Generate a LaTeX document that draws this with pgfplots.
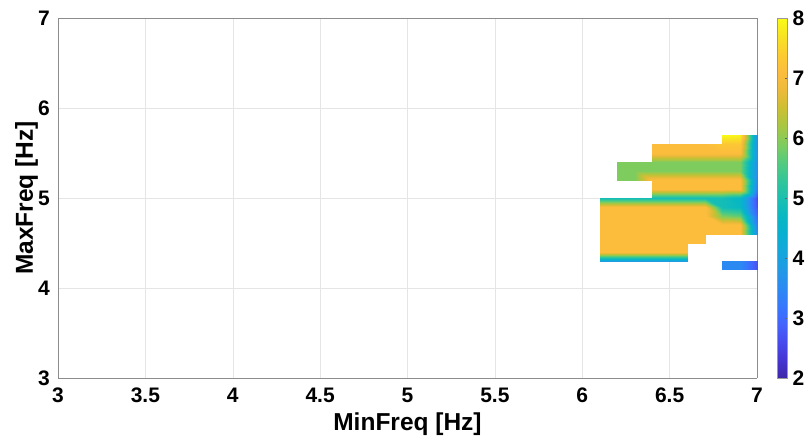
\documentclass[border=0pt]{standalone}
\usepackage{pgfplots}
\pgfplotsset{compat=1.18}
\usepackage{fontspec}
\setmainfont{Liberation Sans}
\begin{document}
\begin{tikzpicture}
\begin{axis}[
  set layers=standard,
  scale only axis, width=699pt, height=360pt,
  view={0}{90},
  xmin=3, xmax=7, ymin=3, ymax=7,
  xtick={3,3.5,...,7}, ytick={3,...,7}, ztick=\empty,
  grid=major, major grid style={color=black!10, line width=0.5pt},
  axis line style={color=black!45, line width=0.7pt},
  major tick length=0pt,
  /pgf/number format/assume math mode=true,
  tick label style={font=\fontsize{21}{21}\selectfont\bfseries},
  xticklabel style={anchor=base, yshift=-25pt, inner sep=0pt},
  yticklabel style={anchor=east, xshift=-8pt, inner sep=0pt},
  xlabel={MinFreq [Hz]}, ylabel={MaxFreq [Hz]},
  every axis x label/.style={at={(axis description cs:0.5,-0.1472)}, anchor=base, inner sep=0pt, font=\fontsize{24.5}{24.5}\selectfont\bfseries},
  every axis y label/.style={at={(axis description cs:-0.0358,0.5)}, rotate=90, anchor=base, inner sep=0pt, font=\fontsize{24.5}{24.5}\selectfont\bfseries},
  colormap={parula}{
    rgb=(0.2422,0.1504,0.6603) rgb=(0.2700,0.2100,0.8200) rgb=(0.2800,0.2900,0.9300)
    rgb=(0.2650,0.3900,0.9900) rgb=(0.2100,0.4700,0.9900) rgb=(0.1700,0.5400,0.9500)
    rgb=(0.1300,0.6000,0.9000) rgb=(0.0800,0.6500,0.8600) rgb=(0.0300,0.6900,0.8200)
    rgb=(0.0300,0.7200,0.7600) rgb=(0.1000,0.7500,0.6900) rgb=(0.2000,0.7750,0.6000)
    rgb=(0.3300,0.7950,0.4900) rgb=(0.5000,0.8000,0.3700) rgb=(0.6600,0.7800,0.2600)
    rgb=(0.8000,0.7500,0.2000) rgb=(0.9300,0.7300,0.2300) rgb=(0.9900,0.7400,0.2400)
    rgb=(0.9900,0.8000,0.1900) rgb=(0.9700,0.8900,0.1400) rgb=(0.9769,0.9839,0.0805)
  },
  point meta min=2, point meta max=8,
  unbounded coords=jump,
  colorbar,
  colorbar style={
    at={(parent axis.north east)}, anchor=north west, xshift=12pt,
    scale only axis, width=10pt, height=360pt,
    ytick={2,...,8},
    ytick pos=right,
    /pgf/number format/assume math mode=true,
    yticklabel style={font=\fontsize{21}{21}\selectfont\bfseries, anchor=west, xshift=5pt, inner sep=0pt},
    axis line style={color=black!40, line width=0.6pt},
    major tick length=3pt, tick style={color=black!60, line width=0.6pt},
    tick align=inside,
  },
]
\addplot3[surf, shader=interp, mesh/cols=10] table {
x y z
6.1 4.2 nan
6.2 4.2 nan
6.3 4.2 nan
6.4 4.2 nan
6.5 4.2 nan
6.6 4.2 nan
6.7 4.2 nan
6.8 4.2 3.5
6.9 4.2 3.5
7.0 4.2 2.7

6.1 4.3 3.9
6.2 4.3 3.9
6.3 4.3 3.9
6.4 4.3 3.9
6.5 4.3 3.9
6.6 4.3 3.9
6.7 4.3 nan
6.8 4.3 3.5
6.9 4.3 3.5
7.0 4.3 2.7

6.1 4.4 7.1
6.2 4.4 7.1
6.3 4.4 7.1
6.4 4.4 7.1
6.5 4.4 7.1
6.6 4.4 7.1
6.7 4.4 nan
6.8 4.4 nan
6.9 4.4 nan
7.0 4.4 nan

6.1 4.5 7.1
6.2 4.5 7.1
6.3 4.5 7.1
6.4 4.5 7.1
6.5 4.5 7.1
6.6 4.5 7.1
6.7 4.5 7.1
6.8 4.5 nan
6.9 4.5 nan
7.0 4.5 nan

6.1 4.6 7.1
6.2 4.6 7.1
6.3 4.6 7.1
6.4 4.6 7.1
6.5 4.6 7.1
6.6 4.6 7.1
6.7 4.6 7.1
6.8 4.6 7.1
6.9 4.6 7.1
7.0 4.6 3.5

6.1 4.7 7.1
6.2 4.7 7.1
6.3 4.7 7.1
6.4 4.7 7.1
6.5 4.7 7.1
6.6 4.7 7.1
6.7 4.7 7.1
6.8 4.7 7.1
6.9 4.7 7.1
7.0 4.7 3.3

6.1 4.8 7.1
6.2 4.8 7.1
6.3 4.8 7.1
6.4 4.8 7.1
6.5 4.8 7.1
6.6 4.8 7.1
6.7 4.8 7.1
6.8 4.8 5.9
6.9 4.8 5.7
7.0 4.8 3.0

6.1 4.9 7.1
6.2 4.9 7.1
6.3 4.9 7.1
6.4 4.9 7.1
6.5 4.9 7.1
6.6 4.9 7.1
6.7 4.9 7.1
6.8 4.9 4.9
6.9 4.9 4.7
7.0 4.9 2.7

6.1 5.0 4.9
6.2 5.0 4.9
6.3 5.0 4.9
6.4 5.0 4.9
6.5 5.0 4.9
6.6 5.0 4.9
6.7 5.0 4.9
6.8 5.0 4.9
6.9 5.0 4.6
7.0 5.0 2.6

6.1 5.1 nan
6.2 5.1 nan
6.3 5.1 nan
6.4 5.1 7.1
6.5 5.1 7.1
6.6 5.1 7.1
6.7 5.1 7.1
6.8 5.1 7.1
6.9 5.1 7.1
7.0 5.1 3.3

6.1 5.2 nan
6.2 5.2 5.9
6.3 5.2 5.9
6.4 5.2 7.1
6.5 5.2 7.1
6.6 5.2 7.1
6.7 5.2 7.1
6.8 5.2 7.1
6.9 5.2 7.1
7.0 5.2 3.5

6.1 5.3 nan
6.2 5.3 5.9
6.3 5.3 5.9
6.4 5.3 5.9
6.5 5.3 5.9
6.6 5.3 5.9
6.7 5.3 5.9
6.8 5.3 5.9
6.9 5.3 5.9
7.0 5.3 3.6

6.1 5.4 nan
6.2 5.4 5.9
6.3 5.4 5.9
6.4 5.4 5.9
6.5 5.4 5.9
6.6 5.4 5.9
6.7 5.4 5.9
6.8 5.4 5.9
6.9 5.4 5.9
7.0 5.4 3.6

6.1 5.5 nan
6.2 5.5 nan
6.3 5.5 nan
6.4 5.5 7.1
6.5 5.5 7.1
6.6 5.5 7.1
6.7 5.5 7.1
6.8 5.5 7.1
6.9 5.5 7.1
7.0 5.5 3.6

6.1 5.6 nan
6.2 5.6 nan
6.3 5.6 nan
6.4 5.6 7.1
6.5 5.6 7.1
6.6 5.6 7.1
6.7 5.6 7.1
6.8 5.6 7.3
6.9 5.6 7.3
7.0 5.6 3.6

6.1 5.7 nan
6.2 5.7 nan
6.3 5.7 nan
6.4 5.7 nan
6.5 5.7 nan
6.6 5.7 nan
6.7 5.7 nan
6.8 5.7 8.0
6.9 5.7 7.9
7.0 5.7 3.6
};
\end{axis}
\pgfresetboundingbox
\path (-58pt,-60pt) rectangle (750pt,378pt);
\end{tikzpicture}
\end{document}
